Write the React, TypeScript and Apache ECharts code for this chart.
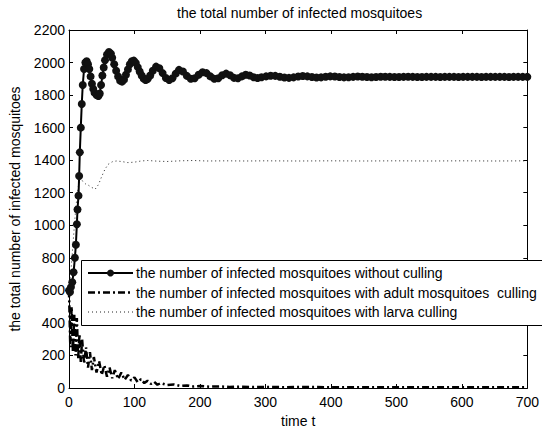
import React, { useEffect, useRef } from "react";
import * as echarts from "echarts";

const titleText = "the total number of infected mosquitoes";
const xName = "time t";
const yName = "the total number of infected mosquitoes";
const seriesNames = [
  "the number of infected mosquitoes without culling",
  "the number of infected mosquitoes with adult mosquitoes  culling",
  "the number of infected mosquitoes with larva culling",
];

// without culling
const tA = [0, 1.5, 3, 5, 7, 9, 10.5, 12, 13, 14.5, 15.5, 16.5, 18, 19.5, 21, 23, 25, 27, 29, 31, 33, 35, 37, 39, 42, 45, 47, 49, 51, 53, 55, 58, 61, 64, 66, 69, 72, 75, 78, 81, 84, 87, 90, 93, 96, 99, 102, 105, 108, 111, 114, 117, 120, 124, 128, 133, 138, 143, 148, 153, 158, 163, 168, 174, 180, 186, 192, 198, 204, 210, 216, 222, 228, 234, 240, 246, 252, 258, 264, 270, 276, 282, 288,
  294, 301, 308, 315, 322, 329, 336, 343, 350, 357, 364, 371, 378, 385, 392, 399, 406, 413, 420, 427, 434, 441, 448, 455, 462, 469, 476, 483, 490, 497, 504, 511, 518, 525, 532, 539, 546, 553, 560, 567, 574, 581, 588, 595, 602, 609, 616, 623, 630, 637, 644, 651, 658, 665, 672, 679, 686, 693, 700];
const vA = [600, 590, 620, 650, 711, 800, 880, 1006, 1097, 1182, 1303, 1448, 1600, 1745, 1862, 1960, 2000, 2008, 1990, 1960, 1915, 1870, 1838, 1815, 1800, 1794, 1810, 1862, 1920, 1970, 2014, 2050, 2065, 2055, 2030, 1990, 1950, 1915, 1890, 1883, 1895, 1925, 1958, 1990, 2008, 2012, 1998, 1972, 1945, 1920, 1902, 1893, 1898, 1920, 1950, 1975, 1965, 1935, 1905, 1893, 1903, 1932, 1955, 1945, 1918, 1900, 1903, 1925, 1940, 1935, 1915, 1900, 1904, 1922, 1932, 1922, 1906, 1903, 1915, 1925, 1920, 1910, 1905,
  1910, 1915, 1919, 1918, 1913, 1908, 1906, 1909, 1914, 1917, 1915, 1911, 1908, 1909, 1913, 1915, 1914, 1911, 1909, 1910, 1912, 1914, 1913, 1911, 1910, 1911, 1913, 1913, 1912, 1911, 1911, 1912, 1913, 1912, 1911, 1911, 1912, 1912, 1912, 1911, 1912, 1912, 1912, 1911, 1912, 1912, 1912, 1912, 1911, 1912, 1912, 1912, 1912, 1912, 1911, 1912, 1912, 1912, 1912];

// adult mosquitoes culling
const tB = [0, 2, 4, 6, 8, 10, 12, 14, 16, 18, 20, 23, 26, 29, 32, 35, 38, 42, 46, 50, 54, 58, 62, 66, 70, 75, 80, 85, 90, 95, 100, 105, 110, 115, 120, 125, 130, 135, 140, 150, 160, 170, 180, 190, 200, 215, 230, 245, 260, 280, 300, 330, 360, 400, 450, 500, 550, 600, 650, 700];
const vB = [600, 250, 500, 220, 450, 200, 430, 180, 330, 160, 300, 150, 250, 125, 220, 110, 190, 95, 165, 80, 140, 70, 125, 60, 110, 55, 95, 50, 80, 45, 65, 35, 55, 30, 45, 25, 38, 20, 30, 18, 22, 12, 16, 9, 12, 8, 10, 6, 8, 6, 7, 5, 6, 5, 5, 4, 5, 4, 4, 4];

// larva culling
const tC = [0, 3, 6, 9, 12, 15, 18, 21, 25, 30, 35, 40, 45, 50, 55, 60, 66, 72, 80, 90, 100, 110, 120, 135, 150, 170, 190, 210, 240, 270, 300, 350, 400, 450, 500, 550, 600, 650, 700];
const vC = [600, 720, 880, 1040, 1170, 1260, 1290, 1270, 1255, 1245, 1232, 1222, 1250, 1300, 1345, 1375, 1390, 1395, 1392, 1385, 1388, 1395, 1398, 1394, 1392, 1396, 1398, 1395, 1396, 1395, 1396, 1395, 1396, 1395, 1396, 1395, 1396, 1395, 1396];

const pairs = (t: number[], v: number[]) => t.map((x, i) => [x, v[i]]);

const FONT = "'Liberation Sans', Arial, Helvetica, sans-serif";

const dashB = [7, 3, 2, 3];
const dashC = [1, 3];

export default function App() {
  const ref = useRef<HTMLDivElement>(null);
  useEffect(() => {
    const chart = echarts.init(ref.current!, null, { renderer: "svg" });
    const axisLine = { show: true, onZero: false, lineStyle: { color: "#000", width: 1 } };
    const axisTick = { show: true, inside: true, length: 4, lineStyle: { color: "#000", width: 1 } };

    // legend drawn as graphic
    const LX = 81.5, LY = 260.5, LW = 470, LH = 65;
    const rowY = [273, 292.5, 312];
    const sx0 = 88, sx1 = 133, tx = 136;
    const legendGraphic: any[] = [
      { type: "rect", shape: { x: LX, y: LY, width: LW, height: LH }, style: { fill: "#fff", stroke: "#000", lineWidth: 1 }, z: 100 },
      { type: "line", shape: { x1: sx0, y1: rowY[0], x2: sx1, y2: rowY[0] }, style: { stroke: "#000", lineWidth: 2 }, z: 101 },
      { type: "circle", shape: { cx: (sx0 + sx1) / 2, cy: rowY[0], r: 3.5 }, style: { fill: "#111" }, z: 102 },
      { type: "line", shape: { x1: sx0, y1: rowY[1], x2: sx1, y2: rowY[1] }, style: { stroke: "#000", lineWidth: 2.5, lineDash: dashB }, z: 101 },
      { type: "line", shape: { x1: sx0, y1: rowY[2], x2: sx1, y2: rowY[2] }, style: { stroke: "#222", lineWidth: 1, lineDash: dashC }, z: 101 },
    ];
    seriesNames.forEach((n, i) => {
      legendGraphic.push({
        type: "text", x: tx, y: rowY[i], z: 103,
        style: { text: n, fontFamily: FONT, fontSize: 14, fill: "#000", verticalAlign: "middle", align: "left" },
      });
    });

    chart.setOption({
      animation: false,
      backgroundColor: "#fff",
      textStyle: { fontFamily: FONT, color: "#000" },
      title: {
        text: titleText,
        left: 172,
        top: 1,
        textStyle: { fontFamily: FONT, fontSize: 14, fontWeight: "normal", color: "#000" },
      },
      grid: { left: 65, right: 13, top: 30, bottom: 39 },
      xAxis: [
        {
          type: "value", min: 0, max: 700, interval: 100, position: "bottom",
          name: xName, nameLocation: "middle", nameGap: 26,
          nameTextStyle: { fontFamily: FONT, fontSize: 14, color: "#000" },
          axisLine, axisTick,
          axisLabel: { fontFamily: FONT, fontSize: 14, color: "#000", margin: 7, formatter: (v: number) => String(v) },
          splitLine: { show: false },
        },
        {
          type: "value", min: 0, max: 700, interval: 100, position: "top",
          axisLine, axisTick, axisLabel: { show: false }, splitLine: { show: false },
        },
      ],
      yAxis: [
        {
          type: "value", min: 0, max: 2200, interval: 200, position: "left",
          name: yName, nameLocation: "middle", nameGap: 47,
          nameTextStyle: { fontFamily: FONT, fontSize: 14, color: "#000" },
          axisLine, axisTick,
          axisLabel: { fontFamily: FONT, fontSize: 14, color: "#000", margin: 4, formatter: (v: number) => String(v) },
          splitLine: { show: false },
        },
        {
          type: "value", min: 0, max: 2200, interval: 200, position: "right",
          axisLine, axisTick, axisLabel: { show: false }, splitLine: { show: false },
        },
      ],
      graphic: legendGraphic,
      series: [
        {
          type: "line", name: seriesNames[0], data: pairs(tA, vA),
          symbol: "circle", symbolSize: 8, showSymbol: true, showAllSymbol: true,
          lineStyle: { color: "#000", width: 2 }, itemStyle: { color: "#111" },
          z: 4,
        },
        {
          type: "line", name: seriesNames[1], data: pairs(tB, vB),
          symbol: "none", showSymbol: false,
          lineStyle: { color: "#000", width: 2.5, type: dashB },
          itemStyle: { color: "#000" },
          z: 3,
        },
        {
          type: "line", name: seriesNames[2], data: pairs(tC, vC),
          symbol: "none", showSymbol: false,
          lineStyle: { color: "#222", width: 1, type: dashC },
          itemStyle: { color: "#222" },
          z: 3,
        },
      ],
    });
    return () => chart.dispose();
  }, []);
  return <div ref={ref} style={{ position: "fixed", left: 0, top: 0, width: 542, height: 433 }} />;
}
